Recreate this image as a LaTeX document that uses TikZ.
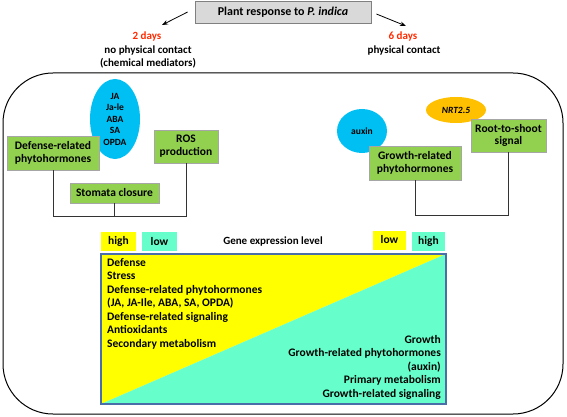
\documentclass[tikz,border=0pt]{standalone}
\usepackage{fontspec}
\setmainfont{Carlito}
\usetikzlibrary{arrows.meta,calc,shapes.geometric}
\definecolor{boxgreen}{HTML}{92D050}
\definecolor{boxborder}{HTML}{A6A6A6}
\definecolor{skyb}{HTML}{00BFF3}
\definecolor{orng}{HTML}{FFC000}
\definecolor{aqua}{HTML}{66FFCC}
\definecolor{yel}{HTML}{FFFF00}
\definecolor{redtxt}{HTML}{FF2A00}
\definecolor{frameblue}{HTML}{4A6EA8}
\definecolor{titlegray}{HTML}{D9D9D9}
\definecolor{connc}{HTML}{333333}
\tikzset{
  gbox/.style={draw=boxborder, fill=boxgreen, line width=0.8pt, inner sep=0pt, align=center,
    font=\bfseries\fontsize{11.5}{12.8}\selectfont},
  elli/.style={ellipse, inner sep=0pt, align=center},
  conn/.style={draw=connc, line width=1pt},
  arr/.style={draw=black, line width=0.8pt, -{Stealth[length=6pt,width=4.5pt]}},
  tag/.style={inner sep=0pt, minimum height=19pt, font=\bfseries\fontsize{11.5}{12}\selectfont},
}
\begin{document}
\begin{tikzpicture}[x=1pt,y=-1pt, font=\bfseries\fontsize{11}{13}\selectfont]
\useasboundingbox (0,0) rectangle (567,417);
% outer frame
\draw[line width=1pt, rounded corners=50pt] (3,73) rectangle (563,414);
% title
\node[draw=gray, fill=titlegray, line width=0.8pt, minimum width=176pt, minimum height=22pt, inner sep=0pt,
  font=\bfseries\fontsize{12}{13}\selectfont] (title) at (283,12) {Plant response to \textit{P. indica}};
\coordinate (la) at (162,25);
\coordinate (ra) at (406,26);
\draw[arr] ([xshift=-7pt,yshift=0pt]title.west) -- (la);
\draw[arr] ([xshift=5pt,yshift=-2pt]title.east) -- (ra);
\node[text=redtxt] (d2) at (147,37) {2 days};
\node[align=center] (d2t) at (148,57) {no physical contact\\(chemical mediators)};
\node[text=redtxt] (d6) at (403,37) {6 days};
\node (d6t) at (404,51) {physical contact};
% left group
\node[elli, fill=skyb, minimum width=50pt, minimum height=80pt, font=\bfseries\fontsize{9.5}{11.5}\selectfont] (horm) at (115,119)
  {JA\\Ja-le\\ABA\\SA\\OPDA};
\node[gbox, minimum width=92pt, minimum height=34pt] (def) at (53,153) {Defense-related\\phytohormones};
\node[gbox, minimum width=64pt, minimum height=33pt] (ros) at (186,146.5) {ROS\\production};
\node[gbox, minimum width=89pt, minimum height=20pt] (stom) at (114.5,193) {Stomata closure};
\draw[conn] (def.south) |- ($(stom.south)+(0,13)$) -| (ros.south);
\draw[conn] (stom.south) -- ++(0,13);
% right group
\node[elli, fill=skyb, minimum width=50pt, minimum height=44pt, font=\bfseries\fontsize{9.5}{10}\selectfont] (aux) at (362,131) {auxin};
\node[elli, fill=orng, minimum width=60pt, minimum height=26pt, font=\bfseries\itshape\fontsize{9.5}{10}\selectfont] (nrt) at (456,110) {NRT2.5};
\node[gbox, minimum width=92pt, minimum height=34pt] (grow) at (415,163) {Growth-related\\phytohormones};
\node[gbox, minimum width=75pt, minimum height=33pt] (root) at (508.5,135.5) {Root-to-shoot\\signal};
\draw[conn] (grow.south) |- ($(grow.south)+(0,35)$) -| (root.south);
% gene expression panel
\node[tag, fill=yel, minimum width=35pt] (hi1) at (118.5,241.5) {high};
\node[tag, fill=aqua, minimum width=35pt] (lo1) at (159.5,241.5) {low};
\node (gel) at (273,242) {Gene expression level};
\node[tag, fill=yel, minimum width=33pt] (lo2) at (389.5,240) {low};
\node[tag, fill=aqua, minimum width=33pt] (hi2) at (428.5,241.5) {high};
\coordinate (pnw) at (101,254);
\coordinate (pne) at (446,254);
\coordinate (pse) at (446,404);
\coordinate (psw) at (101,404);
\fill[yel] (pnw) -- (pne) -- (psw) -- cycle;
\fill[aqua] (pne) -- (pse) -- (psw) -- cycle;
\draw[frameblue, line width=1.5pt] (pnw) rectangle (pse);
\node[anchor=north west, align=left, inner sep=0pt, font=\bfseries\fontsize{11.5}{13.5}\selectfont] (lt) at (107,258)
  {Defense\\Stress\\Defense-related phytohormones\\(JA, JA-Ile, ABA, SA, OPDA)\\Defense-related signaling\\Antioxidants\\Secondary metabolism};
\node[anchor=north east, align=right, inner sep=0pt, font=\bfseries\fontsize{11.5}{13.5}\selectfont] (rt) at (441,335)
  {Growth\\Growth-related phytohormones\\(auxin)\\Primary metabolism\\Growth-related signaling};
\end{tikzpicture}
\end{document}
